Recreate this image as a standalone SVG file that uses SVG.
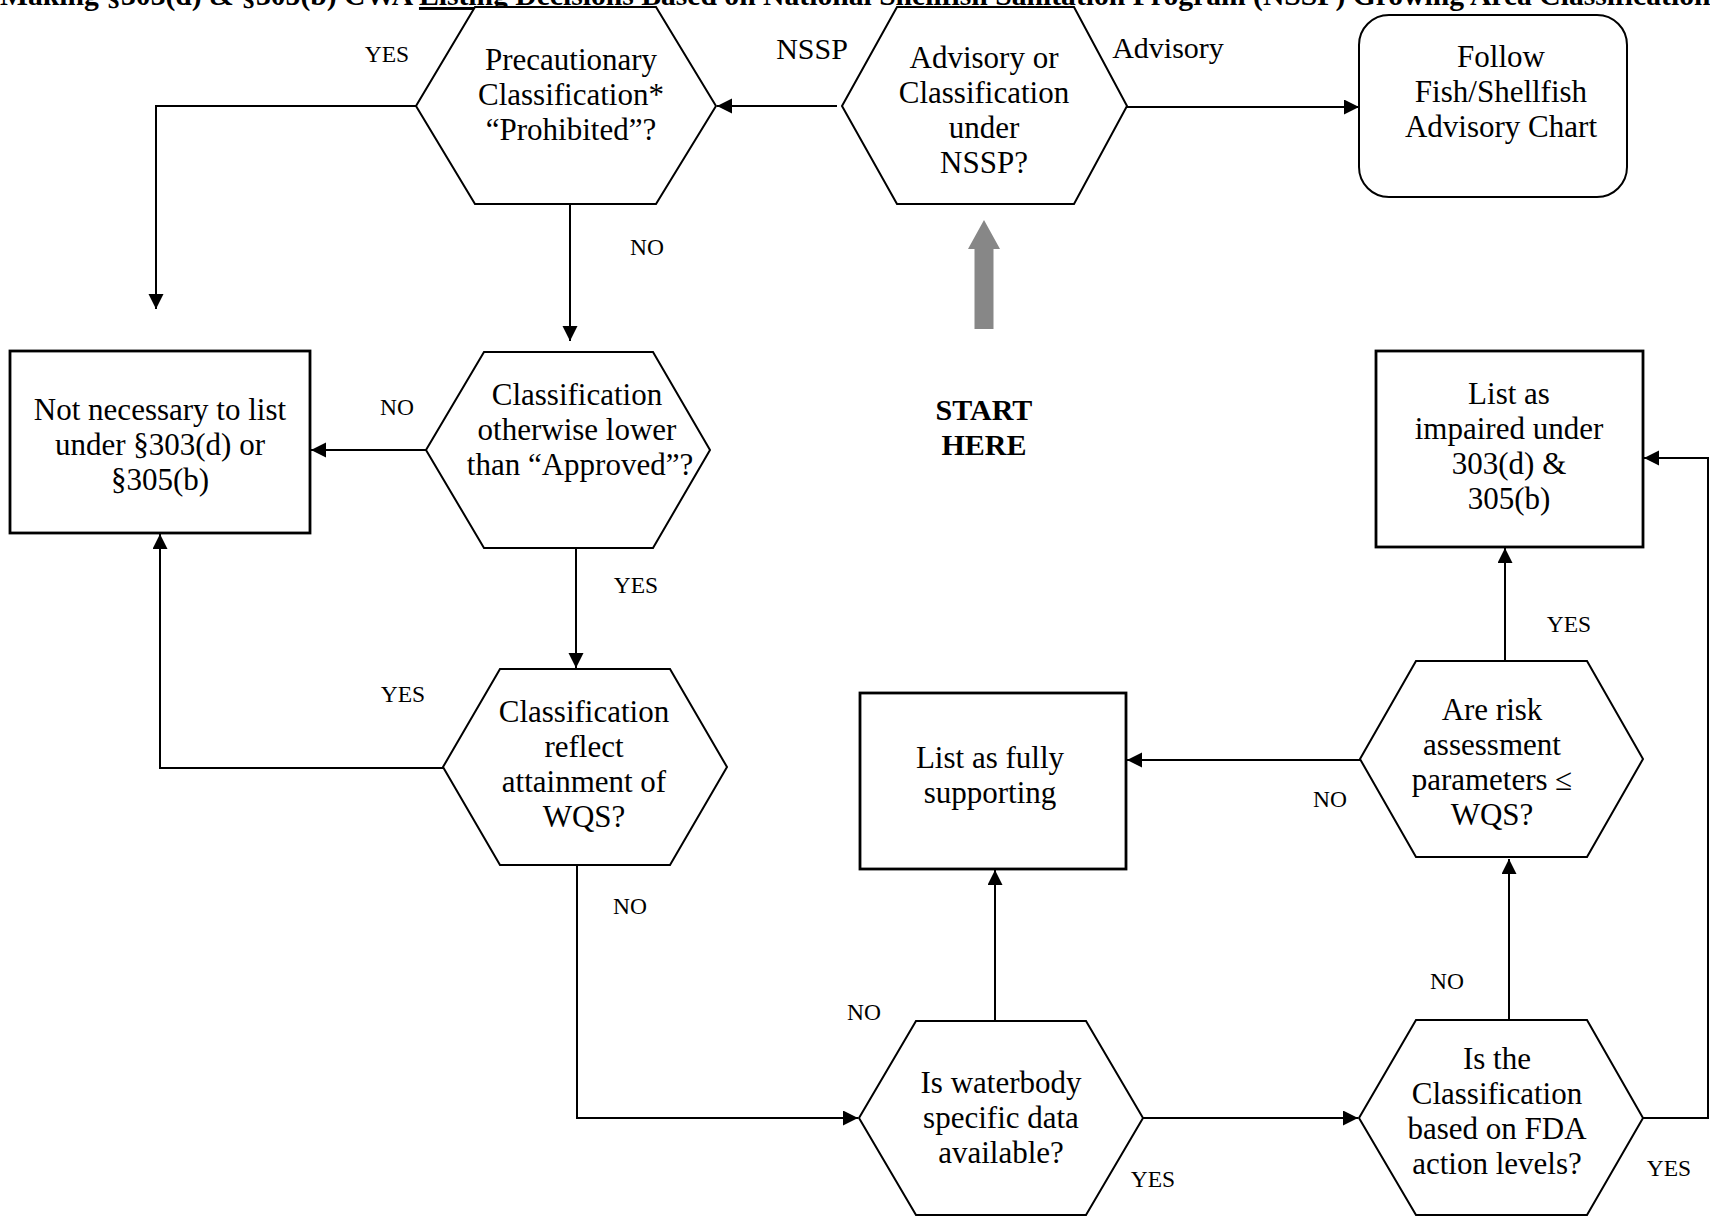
<svg xmlns="http://www.w3.org/2000/svg" width="1710" height="1217" viewBox="0 0 1710 1217">
<style>
text{font-family:"Liberation Serif","Times New Roman",serif;fill:#000}
.t{font-size:31px;text-anchor:middle}
.lab{font-size:23.5px;text-anchor:middle}
.big{font-size:30px;text-anchor:middle}
.hex{fill:#fff;stroke:#000;stroke-width:2}
.box{fill:#fff;stroke:#000;stroke-width:2.8}
.con{fill:none;stroke:#000;stroke-width:2}
</style>
<defs>
<marker id="ah" markerWidth="16" markerHeight="16" refX="15" refY="7.5" orient="auto" markerUnits="userSpaceOnUse">
<path d="M0,0 L15,7.5 L0,15 z" fill="#000"/>
</marker>
</defs>
<rect width="1710" height="1217" fill="#fff"/>
<text x="0" y="5" font-size="29.5" font-weight="bold" textLength="1722" lengthAdjust="spacingAndGlyphs">Making §303(d) &amp; §305(b) CWA <tspan text-decoration="underline">Listing Decisions</tspan> Based on National Shellfish Sanitation Program (NSSP) Growing Area Classifications</text>

<g id="connectors">
<line class="con" x1="837" y1="106" x2="717" y2="106" marker-end="url(#ah)"/>
<line class="con" x1="1127" y1="107" x2="1359" y2="107" marker-end="url(#ah)"/>
<polyline class="con" points="416,106 156,106 156,309" marker-end="url(#ah)"/>
<line class="con" x1="570" y1="204" x2="570" y2="341" marker-end="url(#ah)"/>
<line class="con" x1="426" y1="450" x2="311" y2="450" marker-end="url(#ah)"/>
<line class="con" x1="576" y1="548" x2="576" y2="668" marker-end="url(#ah)"/>
<polyline class="con" points="443,768 160,768 160,534" marker-end="url(#ah)"/>
<polyline class="con" points="577,865 577,1118 858,1118" marker-end="url(#ah)"/>
<line class="con" x1="995" y1="1021" x2="995" y2="870" marker-end="url(#ah)"/>
<line class="con" x1="1143" y1="1118" x2="1358" y2="1118" marker-end="url(#ah)"/>
<line class="con" x1="1509" y1="1020" x2="1509" y2="859" marker-end="url(#ah)"/>
<polyline class="con" points="1643,1118 1708,1118 1708,458 1644,458" marker-end="url(#ah)"/>
<line class="con" x1="1505" y1="661" x2="1505" y2="548" marker-end="url(#ah)"/>
<line class="con" x1="1360" y1="760" x2="1127" y2="760" marker-end="url(#ah)"/>
<polygon points="984,220 1000,249 993.5,249 993.5,329 974.5,329 974.5,249 968,249" fill="#878787"/>
</g>

<g id="labels">
<text class="lab" x="387" y="62">YES</text>
<text class="big" x="812" y="59">NSSP</text>
<text class="big" x="1168" y="58">Advisory</text>
<text class="lab" x="647" y="255">NO</text>
<text class="lab" x="397" y="415">NO</text>
<text class="lab" x="636" y="593">YES</text>
<text class="lab" x="403" y="702">YES</text>
<text class="lab" x="630" y="914">NO</text>
<text class="lab" x="1569" y="632">YES</text>
<text class="lab" x="1330" y="807">NO</text>
<text class="lab" x="864" y="1020">NO</text>
<text class="lab" x="1153" y="1187">YES</text>
<text class="lab" x="1447" y="989">NO</text>
<text class="lab" x="1669" y="1176">YES</text>
</g>

<g id="start">
<text class="big" font-weight="bold" x="984" y="420">START</text>
<text class="big" font-weight="bold" x="984" y="455">HERE</text>
</g>

<g id="n-precautionary">
<polygon class="hex" points="475,7 656,7 716,106 656,204 475,204 416,106"/>
<text class="t" x="571" y="70">Precautionary</text>
<text class="t" x="571" y="105">Classification*</text>
<text class="t" x="571" y="140">“Prohibited”?</text>
</g>

<g id="n-advisory">
<polygon class="hex" points="897,7 1074,7 1127,106 1074,204 897,204 842,106"/>
<text class="t" x="984" y="68">Advisory or</text>
<text class="t" x="984" y="103">Classification</text>
<text class="t" x="984" y="138">under</text>
<text class="t" x="984" y="173">NSSP?</text>
</g>

<g id="n-follow">
<rect class="hex" x="1359" y="15" width="268" height="182" rx="30" ry="30"/>
<text class="t" x="1501" y="67">Follow</text>
<text class="t" x="1501" y="102">Fish/Shellfish</text>
<text class="t" x="1501" y="137">Advisory Chart</text>
</g>

<g id="n-notnecessary">
<rect class="box" x="10" y="351" width="300" height="182"/>
<text class="t" x="160" y="420">Not necessary to list</text>
<text class="t" x="160" y="455">under §303(d) or</text>
<text class="t" x="160" y="490">§305(b)</text>
</g>

<g id="n-lower">
<polygon class="hex" points="484,352 653,352 710,450 653,548 484,548 426,450"/>
<text class="t" x="577" y="405">Classification</text>
<text class="t" x="577" y="440">otherwise lower</text>
<text class="t" x="580" y="475">than “Approved”?</text>
</g>

<g id="n-reflect">
<polygon class="hex" points="500,669 670,669 727,767 670,865 500,865 443,767"/>
<text class="t" x="584" y="722">Classification</text>
<text class="t" x="584" y="757">reflect</text>
<text class="t" x="584" y="792">attainment of</text>
<text class="t" x="584" y="827">WQS?</text>
</g>

<g id="n-impaired">
<rect class="box" x="1376" y="351" width="267" height="196"/>
<text class="t" x="1509" y="404">List as</text>
<text class="t" x="1509" y="439">impaired under</text>
<text class="t" x="1509" y="474">303(d) &amp;</text>
<text class="t" x="1509" y="509">305(b)</text>
</g>

<g id="n-fully">
<rect class="box" x="860" y="693" width="266" height="176"/>
<text class="t" x="990" y="768">List as fully</text>
<text class="t" x="990" y="803">supporting</text>
</g>

<g id="n-risk">
<polygon class="hex" points="1416,661 1587,661 1643,759 1587,857 1416,857 1360,759"/>
<text class="t" x="1492" y="720">Are risk</text>
<text class="t" x="1492" y="755">assessment</text>
<text class="t" x="1492" y="790">parameters ≤</text>
<text class="t" x="1492" y="825">WQS?</text>
</g>

<g id="n-waterbody">
<polygon class="hex" points="916,1021 1086,1021 1143,1118 1086,1215 916,1215 859,1118"/>
<text class="t" x="1001" y="1093">Is waterbody</text>
<text class="t" x="1001" y="1128">specific data</text>
<text class="t" x="1001" y="1163">available?</text>
</g>

<g id="n-fda">
<polygon class="hex" points="1416,1020 1587,1020 1643,1118 1587,1215 1416,1215 1359,1118"/>
<text class="t" x="1497" y="1069">Is the</text>
<text class="t" x="1497" y="1104">Classification</text>
<text class="t" x="1497" y="1139">based on FDA</text>
<text class="t" x="1497" y="1174">action levels?</text>
</g>
</svg>
